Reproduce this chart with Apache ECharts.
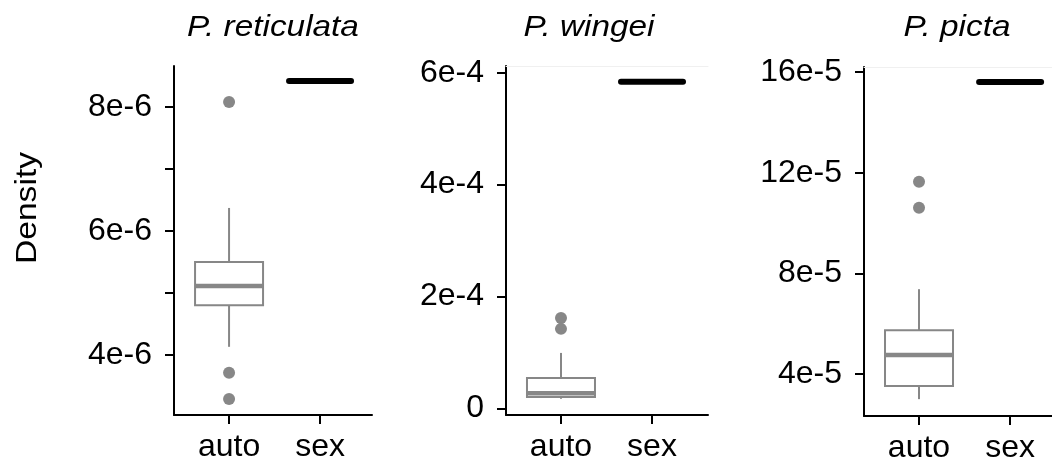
<!DOCTYPE html>
<html><head><meta charset="utf-8">
<script src="https://cdn.jsdelivr.net/npm/echarts@6/dist/echarts.min.js"></script>
<style>html,body{margin:0;padding:0;background:#fff}#c{width:1052px;height:465px}</style>
</head><body><div id="c"></div>
<script>
// ---------- data ----------
const categories = ['auto', 'sex'];
const panelTitles = ['P. reticulata', 'P. wingei', 'P. picta'];
const yAxisTitle = 'Density';

// auto: [lower whisker, Q1, median, Q3, upper whisker]
const reticulataAuto = [4.13e-6, 4.80e-6, 5.11e-6, 5.50e-6, 6.37e-6];
const reticulataOutliers = [8.08e-6, 3.71e-6, 3.29e-6];
const reticulataSex = 8.42e-6;

const wingeiAuto = [1.7e-5, 2.0e-5, 2.7e-5, 5.4e-5, 9.9e-5];
const wingeiOutliers = [1.615e-4, 1.42e-4];
const wingeiSex = 5.84e-4;

const pictaAuto = [3.0e-5, 3.52e-5, 4.75e-5, 5.74e-5, 7.37e-5];
const pictaOutliers = [11.64e-5, 10.61e-5];
const pictaSex = 15.6e-5;

// tick marks and tick labels
const reticulataTicks = [4e-6, 5e-6, 6e-6, 7e-6, 8e-6];
const reticulataLabelValues = [4e-6, 6e-6, 8e-6];
const reticulataLabels = ['4e-6', '6e-6', '8e-6'];
const wingeiTicks = [0, 2e-4, 4e-4, 6e-4];
const wingeiLabels = ['0', '2e-4', '4e-4', '6e-4'];
const pictaTicks = [4e-5, 8e-5, 12e-5, 16e-5];
const pictaLabels = ['4e-5', '8e-5', '12e-5', '16e-5'];

// axis ranges
const reticulataRange = [3.03e-6, 8.66e-6];
const wingeiRange = [-1.2e-5, 6.12e-4];
const pictaRange = [2.33e-5, 16.2e-5];

// ---------- style ----------
const FONT = '"Liberation Sans", Arial, sans-serif';
const GRAY = '#878787';
const BOX_W = 68;

const panels = [
  { title: panelTitles[0], auto: reticulataAuto, out: reticulataOutliers, sex: reticulataSex,
    ticks: reticulataTicks, lv: reticulataLabelValues, lt: reticulataLabels, yr: reticulataRange,
    grid: { left: 174, top: 66, width: 198, height: 349 }, xr: [-0.605, 1.571], titleX: 273, topLine: false },
  { title: panelTitles[1], auto: wingeiAuto, out: wingeiOutliers, sex: wingeiSex,
    ticks: wingeiTicks, lv: wingeiTicks, lt: wingeiLabels, yr: wingeiRange,
    grid: { left: 506, top: 66, width: 202, height: 349 }, xr: [-0.604, 1.615], titleX: 589, topLine: true },
  { title: panelTitles[2], auto: pictaAuto, out: pictaOutliers, sex: pictaSex,
    ticks: pictaTicks, lv: pictaTicks, lt: pictaLabels, yr: pictaRange,
    grid: { left: 864, top: 67, width: 188, height: 349 }, xr: [-0.604, 1.46], titleX: 957, topLine: true }
];

function labelFor(p) {
  return function (v) {
    for (let i = 0; i < p.lv.length; i++) {
      if (Math.abs(v - p.lv[i]) <= Math.abs(p.lv[i]) * 1e-6 + 1e-15) return p.lt[i];
    }
    return '';
  };
}

function boxRenderer(params, api) {
  const x = api.value(0);
  const c = (i) => api.coord([x, api.value(i)]);
  const lo = c(1), q1 = c(2), md = c(3), q3 = c(4), hi = c(5);
  const h = BOX_W / 2;
  return {
    type: 'group',
    children: [
      { type: 'line', shape: { x1: lo[0], y1: lo[1], x2: q1[0], y2: q1[1] }, style: { stroke: GRAY, lineWidth: 2 } },
      { type: 'line', shape: { x1: q3[0], y1: q3[1], x2: hi[0], y2: hi[1] }, style: { stroke: GRAY, lineWidth: 2 } },
      { type: 'rect', shape: { x: q3[0] - h, y: q3[1], width: BOX_W, height: q1[1] - q3[1] }, style: { fill: '#fff', stroke: GRAY, lineWidth: 2 } },
      { type: 'line', shape: { x1: md[0] - h, y1: md[1], x2: md[0] + h, y2: md[1] }, style: { stroke: GRAY, lineWidth: 4.5 } }
    ]
  };
}

function sexRenderer(params, api) {
  const p = api.coord([api.value(0), api.value(1)]);
  const h = BOX_W / 2 - 3;
  return { type: 'line', shape: { x1: p[0] - h, y1: p[1], x2: p[0] + h, y2: p[1] },
    style: { stroke: '#000', lineWidth: 6, lineCap: 'round' } };
}

const grid = [], xAxis = [], yAxis = [], series = [], graphic = [];
panels.forEach((p, i) => {
  grid.push(p.grid);
  xAxis.push({
    type: 'value', gridIndex: i, min: p.xr[0], max: p.xr[1], position: 'bottom',
    splitLine: { show: false },
    axisLine: { show: true, onZero: false, lineStyle: { color: '#000', width: 2 } },
    axisTick: { show: true, length: 9, customValues: [0, 1], lineStyle: { color: '#000', width: 2 } },
    axisLabel: { customValues: [0, 1], formatter: (v) => categories[Math.round(v)] || '',
      color: '#000', fontSize: 32, fontFamily: FONT, margin: 16 }
  });
  yAxis.push({
    type: 'value', gridIndex: i, min: p.yr[0], max: p.yr[1],
    splitLine: { show: false },
    axisLine: { show: true, onZero: false, lineStyle: { color: '#000', width: 2 } },
    axisTick: { show: true, length: 9, customValues: p.ticks, lineStyle: { color: '#000', width: 2 } },
    axisLabel: { customValues: p.lv, formatter: labelFor(p), color: '#000', fontSize: 32, fontFamily: FONT, margin: 22 }
  });
  series.push({
    type: 'custom', xAxisIndex: i, yAxisIndex: i, renderItem: boxRenderer,
    encode: { x: 0, y: [1, 2, 3, 4, 5] }, silent: true,
    data: [[0].concat(p.auto)]
  });
  series.push({
    type: 'scatter', xAxisIndex: i, yAxisIndex: i, symbolSize: 12, silent: true,
    itemStyle: { color: GRAY, opacity: 1 },
    data: p.out.map((v) => [0, v])
  });
  series.push({
    type: 'custom', xAxisIndex: i, yAxisIndex: i, renderItem: sexRenderer,
    encode: { x: 0, y: 1 }, silent: true,
    data: [[1, p.sex]]
  });
  graphic.push({
    type: 'text', x: p.titleX, y: 28, scaleX: 1.15,
    style: { text: p.title, font: 'italic 29px ' + FONT, fill: '#000',
      align: 'center', verticalAlign: 'middle', textAlign: 'center', textVerticalAlign: 'middle' }
  });
});

// faint top border lines (panels 2 and 3)
panels.forEach((p, i) => {
  if (!p.topLine) return;
  xAxis.push({
    type: 'value', gridIndex: i, min: p.xr[0], max: p.xr[1], position: 'top',
    splitLine: { show: false }, axisTick: { show: false }, axisLabel: { show: false },
    axisLine: { show: true, onZero: false, lineStyle: { color: '#f0f0f0', width: 1 } }
  });
});

graphic.push({
  type: 'text', x: 28, y: 208, rotation: Math.PI / 2, scaleX: 1.12,
  style: { text: yAxisTitle, font: '30px ' + FONT, fill: '#000',
    align: 'center', verticalAlign: 'middle', textAlign: 'center', textVerticalAlign: 'middle' }
});

const chart = echarts.init(document.getElementById('c'), null, { renderer: 'canvas' });
chart.setOption({
  animation: false,
  backgroundColor: '#fff',
  grid, xAxis, yAxis, series, graphic
});
</script>
</body></html>
